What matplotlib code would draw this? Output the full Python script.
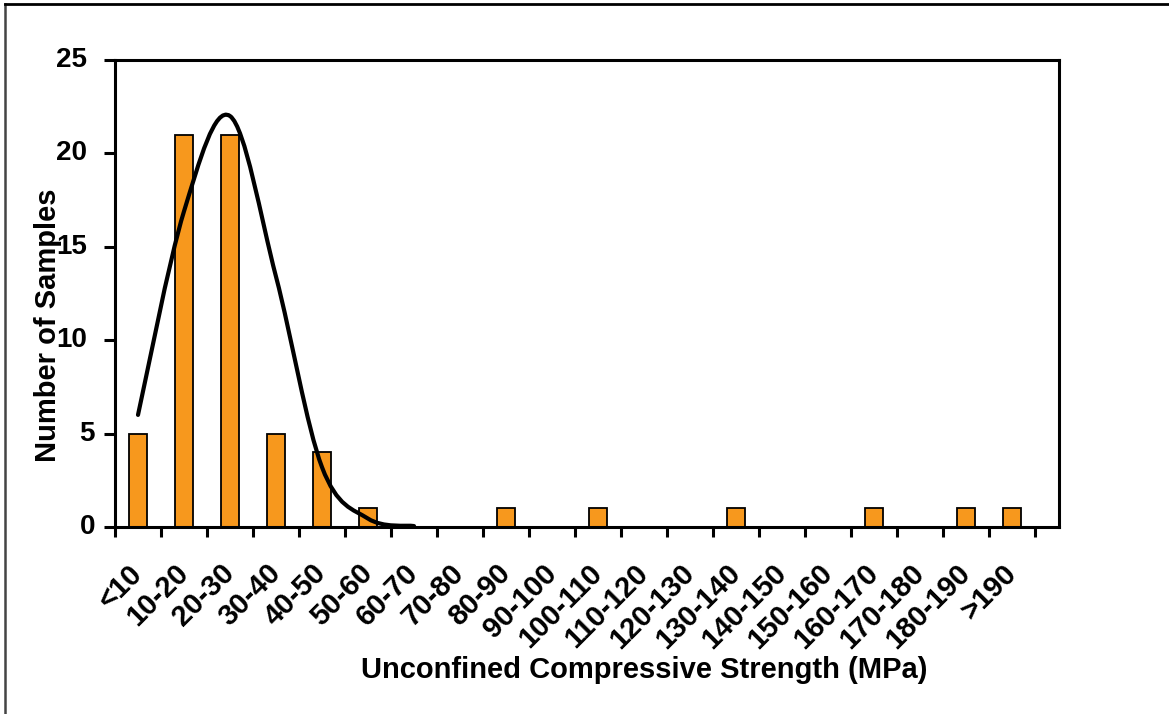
import matplotlib
matplotlib.use("Agg")
import matplotlib.pyplot as plt
from matplotlib.lines import Line2D
from matplotlib.path import Path
from matplotlib.patches import PathPatch
from matplotlib.transforms import ScaledTranslation

plt.rcParams['font.family'] = ['Liberation Sans', 'DejaVu Sans']
plt.rcParams['font.weight'] = 'bold'

categories = ['<10', '10-20', '20-30', '30-40', '40-50', '50-60', '60-70', '70-80',
              '80-90', '90-100', '100-110', '110-120', '120-130', '130-140',
              '140-150', '150-160', '160-170', '170-180', '180-190', '>190']
counts = [5, 21, 21, 5, 4, 1, 0, 0, 1, 0, 1, 0, 0, 1, 0, 0, 1, 0, 1, 1]

# fitted curve values, read at the category centres <10 ... 60-70
curve_cats = [0, 1, 2, 3, 4, 5, 6]
curve_vals = [6.0, 16.9, 22.0, 13.4, 3.2, 0.45, 0.05]

y_ticks = [0, 5, 10, 15, 20, 25]

W, H = 1169, 714
fig = plt.figure(figsize=(W / 100, H / 100), dpi=100)
ax = fig.add_axes([115 / W, 1 - 527 / H, (1059 - 115) / W, (527 - 60) / H])

xs = list(range(len(categories)))
ax.bar(xs, counts, width=0.405, color='#F7981D', edgecolor='black', linewidth=1.3, zorder=2)

# smoothed line (Excel-style Bezier smoothing through the points)
n = len(curve_cats)
verts = [(curve_cats[0], curve_vals[0])]
codes = [Path.MOVETO]
for i in range(n - 1):
    p0 = (curve_cats[max(i - 1, 0)], curve_vals[max(i - 1, 0)])
    p1 = (curve_cats[i], curve_vals[i])
    p2 = (curve_cats[i + 1], curve_vals[i + 1])
    p3 = (curve_cats[min(i + 2, n - 1)], curve_vals[min(i + 2, n - 1)])
    c1 = (p1[0] + (p2[0] - p0[0]) / 6, p1[1] + (p2[1] - p0[1]) / 6)
    c2 = (p2[0] - (p3[0] - p1[0]) / 6, p2[1] - (p3[1] - p1[1]) / 6)
    verts += [c1, c2, p2]
    codes += [Path.CURVE4] * 3
ax.add_patch(PathPatch(Path(verts, codes), facecolor='none', edgecolor='black',
                       lw=3.0, capstyle='round', joinstyle='round', zorder=3))

ax.set_xlim(-0.5, 20.02)
ax.set_ylim(0, 25)

# y ticks
ax.set_yticks(y_ticks)
ax.set_yticklabels([])
ax.tick_params(axis='y', direction='out', length=8, width=2.2)
ytrans = ax.get_yaxis_transform()
for v in y_ticks:
    lab = str(v)
    dx = -28 if len(lab) > 1 else -20
    ax.text(0, v, lab, transform=ytrans + ScaledTranslation(dx / 100, 0, fig.dpi_scale_trans),
            ha='right', va='center', fontsize=20, fontweight='bold', clip_on=False)

# x ticks: marks at category boundaries, labels at centres
ax.set_xticks(xs)
ax.set_xticklabels([])
ax.tick_params(axis='x', which='major', length=0)
ax.set_xticks([i - 0.5 for i in range(len(categories) + 1)], minor=True)
ax.tick_params(axis='x', which='minor', direction='out', length=7, width=2.2)
xtrans = ax.get_xaxis_transform() + ScaledTranslation(0 / 100, -42 / 100, fig.dpi_scale_trans)
for i, lab in enumerate(categories):
    ax.text(i, 0, lab, transform=xtrans, rotation=45, rotation_mode='anchor',
            ha='right', va='center', fontsize=21, fontweight='bold', clip_on=False)

for s in ax.spines.values():
    s.set_linewidth(2.2)

fig.text(644 / W, 1 - 670 / H, 'Unconfined Compressive Strength (MPa)',
         ha='center', va='center', fontsize=21, fontweight='bold')
fig.text(48.5 / W, 1 - 325 / H, 'Number of Samples', rotation=90,
         ha='center', va='center', fontsize=21, fontweight='bold')

fig.add_artist(Line2D([5 / W, 5 / W], [0, 1 - 4 / H], transform=fig.transFigure,
                      color='#444444', lw=1.8))
fig.add_artist(Line2D([5 / W, 1], [1 - 4 / H, 1 - 4 / H], transform=fig.transFigure,
                      color='black', lw=2.0))

fig.savefig('out.png', dpi=100)
